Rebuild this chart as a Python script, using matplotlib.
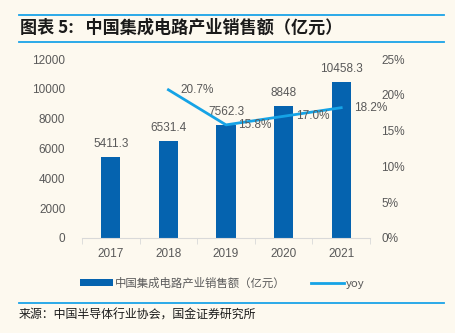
import numpy as np
import matplotlib.pyplot as plt
from matplotlib.lines import Line2D
from matplotlib.ticker import FuncFormatter

plt.rcParams['font.family'] = ['Liberation Sans', 'Noto Sans CJK SC', 'DejaVu Sans']

# Data
years = ['2017', '2018', '2019', '2020', '2021']
sales = [5411.3, 6531.4, 7562.3, 8848, 10458.3]
sales_labels = ['5411.3', '6531.4', '7562.3', '8848', '10458.3']
yoy_years = ['2018', '2019', '2020', '2021']
yoy = [20.7, 15.8, 17.0, 18.2]

BG = '#fdf9ef'
BAR_C = '#0563af'
LINE_C = '#15a3e6'
TXT = '#595959'
W, H = 455, 333
CJK = ['Noto Sans CJK SC', 'DejaVu Sans']


def fx(px):
    return px / W


def fy(py):
    return 1 - py / H


fig = plt.figure(figsize=(4.55, 3.33), dpi=100, facecolor=BG)

# header / footer rules
for y in (15, 42, 303):
    fig.add_artist(Line2D([fx(19), fx(444)], [fy(y), fy(y)], color='#1aa3e8', lw=1.3))

fig.text(fx(20), fy(28), '图表 5:   中国集成电路产业销售额（亿元）', fontsize=12.3,
         fontweight='bold', style='italic', color='#1a1a1a', va='center', family=CJK)
fig.text(fx(19), fy(315), '来源：中国半导体行业协会，国金证券研究所', fontsize=8.6,
         color='#1a1a1a', va='center', family=CJK)

ax = fig.add_axes([fx(82), fy(238), fx(370) - fx(82), fy(59) - fy(238)])
ax.set_facecolor(BG)
x = np.arange(len(years))
ax.bar(x, sales, width=0.33, color=BAR_C, label='中国集成电路产业销售额（亿元）', zorder=2)
ax.set_xlim(-0.5, len(years) - 0.5)
ax.set_ylim(0, 12000)
ax.set_yticks(np.arange(0, 12001, 2000))
ax.set_xticks(x)
ax.set_xticklabels(years)
for s in ['top', 'right', 'left']:
    ax.spines[s].set_visible(False)
ax.spines['bottom'].set_color('#d9d9d9')
ax.tick_params(axis='y', length=0, labelsize=8.5, labelcolor=TXT, pad=12)
ax.tick_params(axis='x', length=0, labelsize=8.5, labelcolor=TXT, pad=7)
# small ticks between categories
ax.set_xticks(np.arange(-0.5, len(years), 1), minor=True)
ax.tick_params(axis='x', which='minor', length=4, color='#d9d9d9')

for xi, v, lab in zip(x, sales, sales_labels):
    ax.annotate(lab, (xi, v), xytext=(0, 5), textcoords='offset points',
                ha='center', va='bottom', fontsize=8.5, color=TXT)

ax2 = ax.twinx()
yx = [years.index(y) for y in yoy_years]
ax2.plot(yx, np.array(yoy) / 100, color=LINE_C, lw=2, label='yoy', zorder=3)
ax2.set_ylim(0, 0.25)
ax2.set_yticks(np.arange(0, 0.2501, 0.05))
ax2.yaxis.set_major_formatter(FuncFormatter(lambda v, p: f'{v * 100:.0f}%'))
for s in ['top', 'right', 'left', 'bottom']:
    ax2.spines[s].set_visible(False)
ax2.tick_params(axis='y', length=0, labelsize=8.5, labelcolor=TXT, pad=8)
for xi, v in zip(yx, yoy):
    ax2.annotate(f'{v:.1f}%', (xi, v / 100), xytext=(9, 0), textcoords='offset points',
                 ha='left', va='center', fontsize=8.5, color=TXT)

h1, l1 = ax.get_legend_handles_labels()
h2, l2 = ax2.get_legend_handles_labels()
fig.legend(h1 + h2, l1 + l2, loc='center', bbox_to_anchor=(fx(222), fy(283)), ncol=2,
           frameon=False, labelcolor=TXT, handlelength=2.9,
           handleheight=0.5, columnspacing=2.2, handletextpad=0.2,
           prop={'family': CJK, 'size': 8.2})

fig.savefig('out.png', dpi=100, facecolor=BG)
